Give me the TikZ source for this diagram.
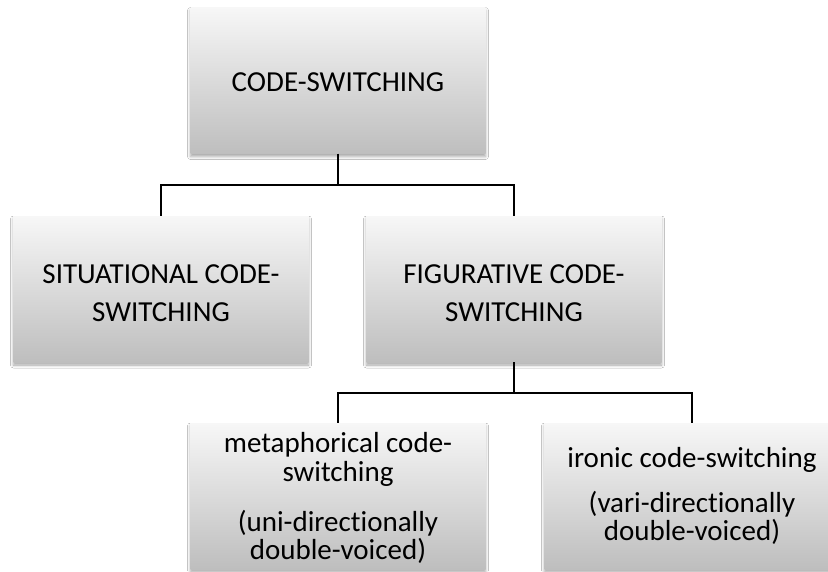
\documentclass[tikz,border=0pt]{standalone}
\usepackage{fontspec}
\setmainfont{Carlito}[Ligatures={NoCommon,NoContextual}]
\usetikzlibrary{shadows.blur}
\definecolor{boxtop}{HTML}{F7F7F7}
\definecolor{boxbot}{HTML}{BEBEBE}
\begin{document}
\begin{tikzpicture}[x=1pt,y=-1pt,
  box/.style={rectangle, minimum width=295pt, minimum height=146pt, inner sep=0pt,
    top color=boxtop, bottom color=boxbot, draw=none,
    blur shadow={shadow xshift=0pt, shadow yshift=-3pt, shadow blur radius=3pt, shadow opacity=35}},
  lbl/.style={anchor=base, inner sep=0pt, font=\fontsize{29}{29}\selectfont},
  conn/.style={line width=2.7pt, draw=black}]
\useasboundingbox (0,0) rectangle (828,571);
\clip (0,0) rectangle (828,571);
\fill[white] (0,0) rectangle (828,571);

% boxes
\node[box] (cs) at (338,80.5) {};
\node[box] (sit) at (161,289) {};
\node[box] (fig) at (514,289) {};
\node[box] (meta) at (338,496) {};
\node[box] (iron) at (692,496) {};

% texts
\node[lbl] (csA) at (338,91) {CODE-SWITCHING};
\node[lbl] (sitA) at (161,283) {SITUATIONAL CODE-};
\node[lbl] (sitB) at (161,321) {SWITCHING};
\node[lbl] (figA) at (514,283) {FIGURATIVE CODE-};
\node[lbl] (figB) at (514,321) {SWITCHING};
\node[lbl] (metaA) at (338,452) {metaphorical code-};
\node[lbl] (metaB) at (338,481) {switching};
\node[lbl] (metaC) at (338,531) {(uni-directionally};
\node[lbl] (metaD) at (338,559) {double-voiced)};
\node[lbl] (ironA) at (692,467) {ironic code-switching};
\node[lbl] (ironB) at (692,512) {(vari-directionally};
\node[lbl] (ironC) at (692,540) {double-voiced)};

% connectors
\coordinate (j1) at (338,185);
\coordinate (j2) at (514,393);
\draw[conn] (cs.south) -- (j1);
\draw[conn] (sit.north) |- (j1) -| (fig.north);
\draw[conn] (fig.south) -- (j2);
\draw[conn] (meta.north) |- (j2) -| (iron.north);
\end{tikzpicture}
\end{document}
